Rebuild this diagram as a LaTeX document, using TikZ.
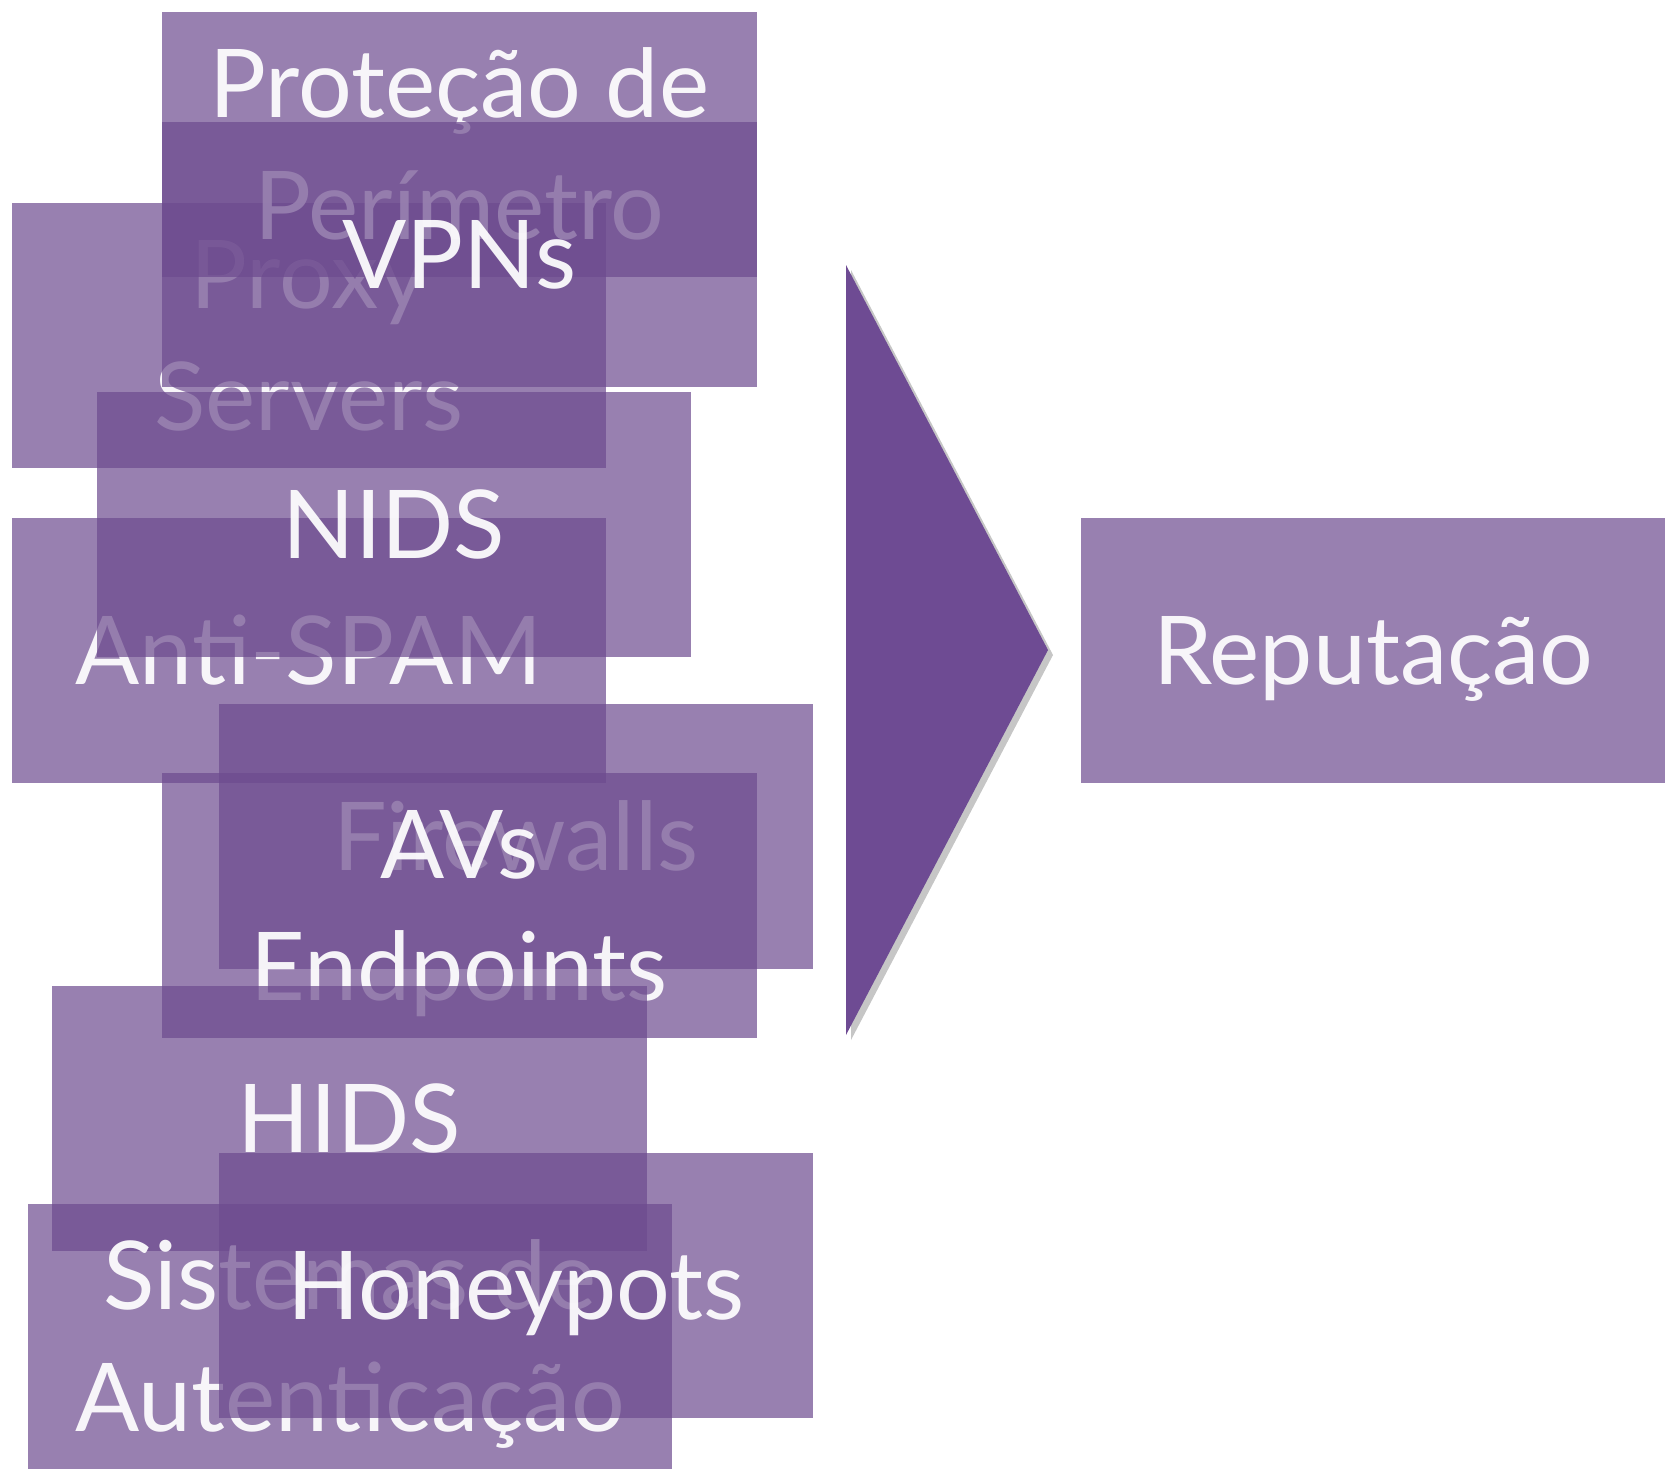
\documentclass[tikz,border=0pt]{standalone}
\usepackage{fontspec}
\setmainfont{Lato}
\usetikzlibrary{shadows}
\definecolor{tilepurple}{RGB}{108,74,142}
\definecolor{arrowpurple}{RGB}{110,75,147}
\newcommand{\tile}[6]{%
  \node[tile,minimum width=#4cm,anchor=north west] (#1) at (#2,#3) {};
  \node[lbl,yshift=#5] (#1-t) at (#1.center) {#6};
}

\begin{document}
\begin{tikzpicture}[x=0.01cm,y=-0.01cm,
  tile/.style={fill=tilepurple,fill opacity=0.7,minimum height=2.65cm,inner sep=0pt},
  lbl/.style={text=white,text opacity=0.93,anchor=base,align=center,inner sep=0pt,
    font=\fontsize{27}{34.6}\selectfont}]
  \useasboundingbox (0,0) rectangle (1665,1468);
  % stacked tiles, later ones cover the earlier texts
  \tile{proxy}{11}{202}{5.94}{-0.95cm}{Proxy\\Servers}
  \tile{protecao}{161}{11}{5.95}{-0.95cm}{Proteção de\\Perímetro}
  \tile{vpns}{161}{121}{5.95}{-0.34cm}{VPNs}
  \tile{antispam}{11}{517}{5.94}{-0.34cm}{Anti-SPAM}
  \tile{nids}{96}{391}{5.94}{-0.34cm}{NIDS}
  \tile{firewalls}{218}{703}{5.94}{-0.34cm}{Firewalls}
  \tile{avs}{161}{772}{5.95}{-0.95cm}{AVs\\Endpoints}
  \tile{hids}{51}{985}{5.95}{-0.34cm}{HIDS}
  \tile{sistemas}{27}{1203}{6.44}{-0.95cm}{Sistemas de\\Autenticação}
  \tile{honeypots}{218}{1152}{5.94}{-0.34cm}{Honeypots}
  % big arrow
  \coordinate (atop) at (846,265);
  \coordinate (atip) at (1048,650);
  \coordinate (abot) at (846,1035);
  \fill[arrowpurple,drop shadow={shadow xshift=0.05cm,shadow yshift=-0.05cm,opacity=0.45}]
    (atop) -- (atip) -- (abot) -- cycle;
  \tile{reputacao}{1080}{517}{5.85}{-0.34cm}{Reputação}
\end{tikzpicture}
\end{document}
